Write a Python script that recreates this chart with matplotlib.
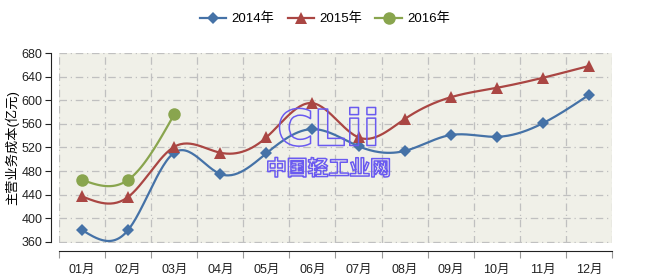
import numpy as np
import matplotlib
import matplotlib.pyplot as plt
import matplotlib.patheffects as pe

matplotlib.use('Agg')
plt.rcParams['font.family'] = ['Liberation Sans', 'Noto Sans CJK SC']

months = ['01月', '02月', '03月', '04月', '05月', '06月',
          '07月', '08月', '09月', '10月', '11月', '12月']
cost_2014 = [380, 380, 511, 475, 510, 551, 522, 514, 541, 538, 561, 609]
cost_2015 = [437, 436, 521, 511, 537, 595, 537, 568, 605, 621, 638, 658]
cost_2016 = [465, 465, 576]

series = [
    ('2014年', cost_2014, '#4572A7', 'D', 6),
    ('2015年', cost_2015, '#AA4643', '^', 8),
    ('2016年', cost_2016, '#89A54E', 'o', 9),
]


def natural_spline(xs, ys, n=30):
    # natural cubic spline through the points, like the smooth lines of the original
    xs = np.asarray(xs, float)
    ys = np.asarray(ys, float)
    k = len(xs)
    h = np.diff(xs)
    A = np.zeros((k, k))
    b = np.zeros(k)
    A[0, 0] = A[-1, -1] = 1
    for i in range(1, k - 1):
        A[i, i - 1] = h[i - 1]
        A[i, i] = 2 * (h[i - 1] + h[i])
        A[i, i + 1] = h[i]
        b[i] = 6 * ((ys[i + 1] - ys[i]) / h[i] - (ys[i] - ys[i - 1]) / h[i - 1])
    M = np.linalg.solve(A, b)
    out_x, out_y = [], []
    for i in range(k - 1):
        t = np.linspace(xs[i], xs[i + 1], n)
        a = xs[i + 1] - t
        c = t - xs[i]
        y = (M[i] * a ** 3 + M[i + 1] * c ** 3) / (6 * h[i]) \
            + (ys[i] / h[i] - M[i] * h[i] / 6) * a \
            + (ys[i + 1] / h[i] - M[i + 1] * h[i] / 6) * c
        out_x.extend(t)
        out_y.extend(y)
    return np.array(out_x), np.array(out_y)


fig = plt.figure(figsize=(6.5, 2.78), dpi=100)
ax = fig.add_axes([59 / 650, 1 - 243 / 278, 553 / 650, 190 / 278])
ax.set_facecolor('#F0F0E8')

handles = []
for name, vals, color, marker, ms in series:
    x = np.arange(len(vals)) + 0.5
    sx, sy = natural_spline(x, vals)
    ax.plot(sx, sy, color=color, lw=1.6, zorder=3)
    ax.plot(x, vals, ls='none', marker=marker, color=color, ms=ms,
            markeredgewidth=0, zorder=4)
    h, = ax.plot([], [], color=color, lw=1.6, marker=marker, ms=ms, markeredgewidth=0)
    handles.append(h)

ax.set_xlim(0, 12)
ax.set_ylim(358, 680)
ax.set_yticks(np.arange(360, 681, 40))
ax.set_xticks(np.arange(0, 13))
ax.set_xticks(np.arange(12) + 0.5, minor=True)
ax.set_xticklabels([])
ax.set_xticklabels(months, minor=True)
ax.tick_params(axis='x', which='minor', length=0, pad=9, labelsize=9, colors='#222222')
ax.tick_params(axis='x', which='major', length=5, color='#999999')
ax.tick_params(axis='y', length=4, pad=2, labelsize=9, colors='#222222')

ax.grid(True, color='#C0C0C0', lw=0.9, ls=(0, (6, 3, 1, 3)))
ax.set_axisbelow(True)

for s in ['top', 'right']:
    ax.spines[s].set_visible(False)
ax.spines['left'].set_position(('outward', 6))
ax.spines['bottom'].set_position(('outward', 6))
ax.spines['left'].set_color('#222222')
ax.spines['bottom'].set_color('#222222')
ax.spines['left'].set_bounds(360, 680)

ax.set_ylabel('主营业务成本(亿元)', fontsize=9.5)
ax.yaxis.set_label_coords(-40 / 553, 0.5)

# watermark
wm = [pe.Stroke(linewidth=1.1, foreground='#6A5AF0')]
ax.text(5.85, 547, 'CLii', ha='center', va='center', fontsize=36,
        fontweight='bold', family=['DejaVu Sans'], color='none', zorder=5,
        path_effects=wm)
ax.text(5.85, 484, '中国轻工业网', ha='center', va='center', fontsize=15,
        fontweight='bold', family=['Noto Sans CJK SC'], color='none',
        zorder=5, path_effects=wm)

fig.legend(handles, [s[0] for s in series], loc='center', bbox_to_anchor=(0.5, 1 - 19 / 278),
           ncol=3, frameon=False, fontsize=9.5, handlelength=2.0, columnspacing=1.0,
           handletextpad=0.4)

fig.savefig('out.png', dpi=100)
